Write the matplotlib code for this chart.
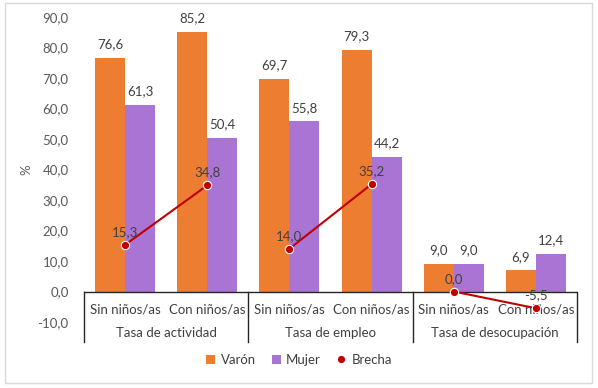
import numpy as np
from matplotlib import pyplot as plt
from matplotlib.patches import Rectangle

# ---------- data ----------
subcats = ['Sin niños/as', 'Con niños/as', 'Sin niños/as', 'Con niños/as', 'Sin niños/as', 'Con niños/as']
groups = ['Tasa de actividad', 'Tasa de empleo', 'Tasa de desocupación']
varon = [76.6, 85.2, 69.7, 79.3, 9.0, 6.9]
mujer = [61.3, 50.4, 55.8, 44.2, 9.0, 12.4]
brecha = [15.3, 34.8, 14.0, 35.2, 0.0, -5.5]
yticks = [-10, 0, 10, 20, 30, 40, 50, 60, 70, 80, 90]

plt.rcParams['font.family'] = ['Lato', 'DejaVu Sans']

def fmt(v):
    return f"{v:.1f}".replace('.', ',')

fs = 9.5
fig = plt.figure(figsize=(5.98, 3.88), dpi=100)
ax = fig.add_axes([84/598, 1-322/388, (577-84)/598, 305/388])

x = np.arange(len(subcats))
w = 0.366
c_var = '#ED7D31'
c_muj = '#A974D3'
c_bre = '#C00000'
txt = '#404040'

h1 = ax.bar(x - w/2, varon, w, color=c_var, label='Varón')
h2 = ax.bar(x + w/2, mujer, w, color=c_muj, label='Mujer')

for i in range(len(x)):
    ax.text(x[i] - w/2, varon[i] + 2.5, fmt(varon[i]), ha='center', va='bottom', fontsize=fs, color=txt)
    ax.text(x[i] + w/2, mujer[i] + 2.5, fmt(mujer[i]), ha='center', va='bottom', fontsize=fs, color=txt)

# brecha: line only within each group
for g in range(3):
    ax.plot(x[2*g:2*g+2], brecha[2*g:2*g+2], color=c_bre, lw=1.5, zorder=3)
h3, = ax.plot(x, brecha, ls='none', marker='o', ms=6, mfc=c_bre, mec='white', mew=0.8, color=c_bre, zorder=4, label='Brecha')
for i in range(len(x)):
    ax.text(x[i], brecha[i] + 2.2, fmt(brecha[i]), ha='center', va='bottom', fontsize=fs, color=txt, zorder=5)

ax.set_xlim(-0.5, 5.5)
ax.set_ylim(-10, 90)
ax.set_yticks(yticks)
ax.set_yticklabels([fmt(t) for t in yticks], fontsize=fs, color='#595959')
ax.tick_params(axis='y', length=0, pad=11)
ax.set_xticks([])
for s in ax.spines.values():
    s.set_visible(False)
ax.set_ylabel('%', fontsize=fs, color='#595959')
ax.yaxis.set_label_coords(-0.105, 0.5)

# category axis
ax.axhline(0, color='#262626', lw=1, zorder=2)
for b in [-0.5, 1.5, 3.5, 5.5]:
    ax.plot([b, b], [0, -16.5], color='#262626', lw=1, clip_on=False)
for i in range(len(x)):
    ax.text(x[i], -5.8, subcats[i], ha='center', va='center', fontsize=fs, color=txt, clip_on=False)
for g in range(3):
    ax.text(2*g + 0.5, -13.6, groups[g], ha='center', va='center', fontsize=fs, color=txt, clip_on=False)

fig.legend([h1, h2, h3], ['Varón', 'Mujer', 'Brecha'], loc='center', bbox_to_anchor=(0.5, 1-360/388),
           ncol=3, frameon=False, fontsize=fs, handlelength=0.7, handleheight=0.7,
           handletextpad=0.4, columnspacing=1.2, labelcolor=txt)

fig.patches.append(Rectangle((5/598, 5/388), 587/598, 380/388, transform=fig.transFigure,
                             fill=False, edgecolor='#D9D9D9', lw=1))

fig.savefig('out.png', dpi=100)
